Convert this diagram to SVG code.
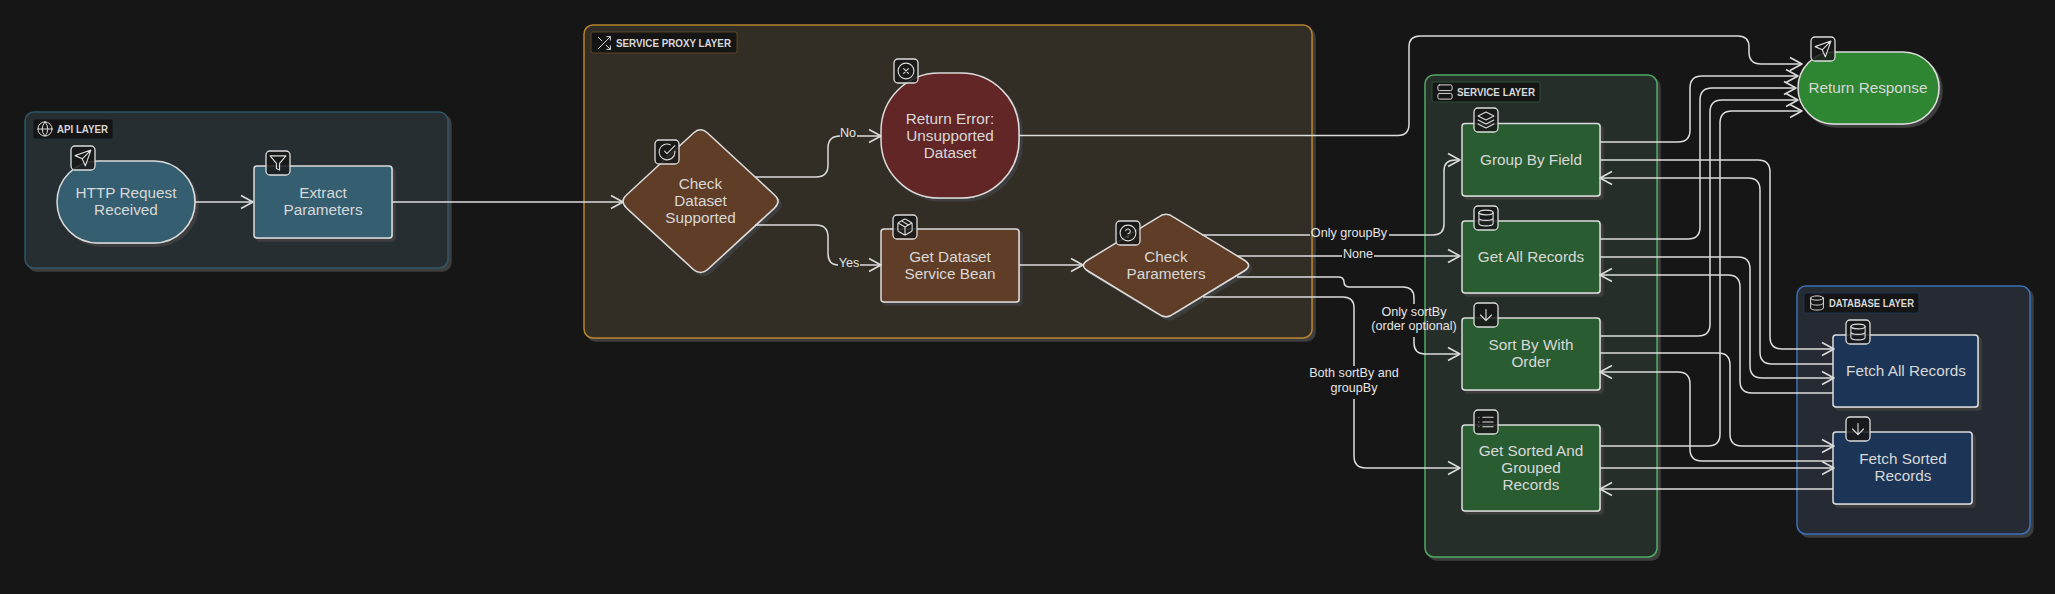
<svg xmlns="http://www.w3.org/2000/svg" width="2055" height="594" viewBox="0 0 2055 594">
<style>
text{font-family:"Liberation Sans",Arial,sans-serif;text-anchor:middle;dominant-baseline:central}
.n{font-size:15.3px;fill:#d8d8d8;transform:translateY(-1px)}
.e{font-size:12.6px;fill:#e4e4e4}
.c{font-size:10.6px;font-weight:700;fill:#d8d8d8;text-anchor:start}
.shape{stroke:#dcdcdc;stroke-width:1.5;filter:url(#sh)}
.cl{stroke-width:1.5;filter:url(#sh)}
.lb{fill:#151515;stroke-width:.8}
.ib{fill:#161616;fill-opacity:.85;stroke:#dcdcdc;stroke-width:1.3}
.ic{fill:none;stroke:#dcdcdc;stroke-width:1.4;stroke-linecap:round;stroke-linejoin:round}
.teal{fill:#365f71}.brown{fill:#5f3c27}.red{fill:#622725}.green{fill:#2b5c33}.navy{fill:#1f3557}.ok{fill:#2e8530}
#edges path{fill:none;stroke:#dcdcdc;stroke-width:1.5}
#edges path.a{marker-end:url(#arr)}
</style>
<defs>
<filter id="sh" x="-5%" y="-5%" width="110%" height="110%"><feDropShadow dx="3" dy="3" stdDeviation="0.5" flood-color="#3c3c3c"/></filter>
<marker id="arr" markerUnits="userSpaceOnUse" markerWidth="16" markerHeight="18" refX="13" refY="8" orient="auto"><path d="M1,1.5 L13,8 L1,14.5" fill="none" stroke="#dcdcdc" stroke-width="1.5" stroke-linejoin="round"/></marker>
<symbol id="i-send" viewBox="0 0 24 24"><path d="m22 2-7 20-4-9-9-4Z M22 2 11 13"/></symbol>
<symbol id="i-filter" viewBox="0 0 24 24"><path d="M22 3H2l8 9.46V19l4 2v-8.54L22 3z"/></symbol>
<symbol id="i-shuffle" viewBox="0 0 24 24"><path d="M16 3h5v5M4 20 21 3M21 16v5h-5M15 15l6 6M4 4l5 5"/></symbol>
<symbol id="i-globe" viewBox="0 0 24 24"><circle cx="12" cy="12" r="10"/><path d="M2 12h20M12 2a15.3 15.3 0 0 1 4 10 15.3 15.3 0 0 1-4 10 15.3 15.3 0 0 1-4-10 15.3 15.3 0 0 1 4-10z"/></symbol>
<symbol id="i-check" viewBox="0 0 24 24"><path d="M22 11.08V12a10 10 0 1 1-5.93-9.14M9 11l3 3L22 4"/></symbol>
<symbol id="i-x" viewBox="0 0 24 24"><circle cx="12" cy="12" r="10"/><path d="m15 9-6 6M9 9l6 6"/></symbol>
<symbol id="i-box" viewBox="0 0 24 24"><path d="M16.5 9.4 7.55 4.24M21 16V8a2 2 0 0 0-1-1.73l-7-4a2 2 0 0 0-2 0l-7 4A2 2 0 0 0 3 8v8a2 2 0 0 0 1 1.73l7 4a2 2 0 0 0 2 0l7-4A2 2 0 0 0 21 16zM3.29 7 12 12l8.71-5M12 22V12"/></symbol>
<symbol id="i-help" viewBox="0 0 24 24"><circle cx="12" cy="12" r="10"/><path d="M9.09 9a3 3 0 0 1 5.83 1c0 2-3 3-3 3M12 17h.01"/></symbol>
<symbol id="i-server" viewBox="0 0 24 24"><rect x="2" y="2" width="20" height="8" rx="2"/><rect x="2" y="14" width="20" height="8" rx="2"/></symbol>
<symbol id="i-layers" viewBox="0 0 24 24"><path d="m12 2-10 5 10 5 10-5-10-5M2 17l10 5 10-5M2 12l10 5 10-5"/></symbol>
<symbol id="i-db" viewBox="0 0 24 24"><ellipse cx="12" cy="5" rx="9" ry="3"/><path d="M3 5v14c0 1.66 4 3 9 3s9-1.34 9-3V5M3 12c0 1.66 4 3 9 3s9-1.34 9-3"/></symbol>
<symbol id="i-down" viewBox="0 0 24 24"><path d="M12 5v14M19 12l-7 7-7-7"/></symbol>
<symbol id="i-list" viewBox="0 0 24 24"><path d="M8 6h13M8 12h13M8 18h13M3 6h.01M3 12h.01M3 18h.01"/></symbol>
</defs>
<rect width="2055" height="594" fill="#161616"/>

<g id="cluster-api"><rect class="cl" x="25" y="112" width="423" height="156" rx="9" fill="#262d30" stroke="#2f5768"/><rect class="lb" x="33" y="119" width="80" height="20" rx="2" stroke="#22343c"/><use href="#i-globe" class="ic" x="36.500" y="120.500" width="17" height="17"/><text class="c" x="57" y="129" textLength="51" lengthAdjust="spacingAndGlyphs">API LAYER</text></g>
<g id="cluster-proxy"><rect class="cl" x="584" y="25" width="728" height="313" rx="9" fill="#322f28" stroke="#b5822e"/><rect class="lb" x="591" y="32" width="146" height="21" rx="2" stroke="#6b5024"/><use href="#i-shuffle" class="ic" x="595.500" y="34.500" width="17" height="17"/><text class="c" x="616" y="42.500" textLength="115" lengthAdjust="spacingAndGlyphs">SERVICE PROXY LAYER</text></g>
<g id="cluster-service"><rect class="cl" x="1425" y="75" width="232" height="482" rx="9" fill="#282f29" stroke="#4fa864"/><rect class="lb" x="1432" y="82" width="108" height="20" rx="2" stroke="#2d5e38"/><use href="#i-server" class="ic" x="1436.500" y="83.500" width="17" height="17"/><text class="c" x="1457" y="92" textLength="78" lengthAdjust="spacingAndGlyphs">SERVICE LAYER</text></g>
<g id="cluster-db"><rect class="cl" x="1797" y="286" width="233" height="248" rx="9" fill="#252a30" stroke="#3a6fb7"/><rect class="lb" x="1804" y="293" width="115" height="20" rx="2" stroke="#223a5e"/><use href="#i-db" class="ic" x="1808.500" y="294.500" width="17" height="17"/><text class="c" x="1829" y="303" textLength="85" lengthAdjust="spacingAndGlyphs">DATABASE LAYER</text></g>

<g id="n-http"><rect class="shape teal" x="57" y="161" width="138" height="82" rx="41"/><text class="n" x="126" y="193.500">HTTP Request</text><text class="n" x="126" y="210.500">Received</text><rect class="ib" x="71" y="146" width="24" height="24" rx="4"/><use href="#i-send" class="ic" x="73.500" y="148.500" width="19" height="19"/></g>
<g id="n-extract"><rect class="shape teal" x="254" y="166" width="138" height="72" rx="3"/><text class="n" x="323" y="193.500">Extract</text><text class="n" x="323" y="210.500">Parameters</text><rect class="ib" x="266" y="151" width="24" height="24" rx="4"/><use href="#i-filter" class="ic" x="268.500" y="153.500" width="19" height="19"/></g>
<g id="n-check-dataset"><path class="shape brown" d="M693.500,133Q700.500,126.500 707.500,133L774.500,195Q781.500,201 774.500,208L707.500,269.500Q700.500,275.500 693.500,269.500L626.500,208Q619.500,201 626.500,195Z"/><text class="n" x="700.500" y="184">Check</text><text class="n" x="700.500" y="201">Dataset</text><text class="n" x="700.500" y="218">Supported</text><rect class="ib" x="655" y="140" width="24" height="24" rx="4"/><use href="#i-check" class="ic" x="657.500" y="142.500" width="19" height="19"/></g>
<g id="n-error"><rect class="shape red" x="881" y="73" width="138" height="125" rx="58"/><text class="n" x="950" y="119">Return Error:</text><text class="n" x="950" y="136">Unsupported</text><text class="n" x="950" y="153">Dataset</text><rect class="ib" x="894" y="59" width="24" height="24" rx="4"/><use href="#i-x" class="ic" x="896.500" y="61.500" width="19" height="19"/></g>
<g id="n-bean"><rect class="shape brown" x="881" y="229" width="138" height="73" rx="3"/><text class="n" x="950" y="257">Get Dataset</text><text class="n" x="950" y="274">Service Bean</text><rect class="ib" x="893" y="215" width="24" height="24" rx="4"/><use href="#i-box" class="ic" x="895.500" y="217.500" width="19" height="19"/></g>
<g id="n-check-params"><path class="shape brown" d="M1158,217.500Q1166,211 1174,217.500L1244,260Q1253,265.500 1244,271L1174,313.500Q1166,320 1158,313.500L1088,271Q1079,265.500 1088,260Z"/><text class="n" x="1166" y="257">Check</text><text class="n" x="1166" y="274">Parameters</text><rect class="ib" x="1116" y="221" width="24" height="24" rx="4"/><use href="#i-help" class="ic" x="1118.500" y="223.500" width="19" height="19"/></g>
<g id="n-group"><rect class="shape green" x="1462" y="123.500" width="138" height="72.500" rx="3"/><text class="n" x="1531" y="160">Group By Field</text><rect class="ib" x="1474" y="108" width="24" height="24" rx="4"/><use href="#i-layers" class="ic" x="1476.500" y="110.500" width="19" height="19"/></g>
<g id="n-all"><rect class="shape green" x="1462" y="221" width="138" height="72" rx="3"/><text class="n" x="1531" y="257">Get All Records</text><rect class="ib" x="1474" y="206" width="24" height="24" rx="4"/><use href="#i-db" class="ic" x="1476.500" y="208.500" width="19" height="19"/></g>
<g id="n-sort"><rect class="shape green" x="1462" y="318" width="138" height="72" rx="3"/><text class="n" x="1531" y="345">Sort By With</text><text class="n" x="1531" y="362">Order</text><rect class="ib" x="1474" y="303" width="24" height="24" rx="4"/><use href="#i-down" class="ic" x="1476.500" y="305.500" width="19" height="19"/></g>
<g id="n-sorted"><rect class="shape green" x="1462" y="425" width="138" height="86" rx="3"/><text class="n" x="1531" y="451">Get Sorted And</text><text class="n" x="1531" y="468">Grouped</text><text class="n" x="1531" y="485">Records</text><rect class="ib" x="1474" y="410" width="24" height="24" rx="4"/><use href="#i-list" class="ic" x="1476.500" y="412.500" width="19" height="19"/></g>
<g id="n-fetch-all"><rect class="shape navy" x="1833" y="335" width="145" height="72" rx="3"/><text class="n" x="1906" y="371">Fetch All Records</text><rect class="ib" x="1846" y="320" width="24" height="24" rx="4"/><use href="#i-db" class="ic" x="1848.500" y="322.500" width="19" height="19"/></g>
<g id="n-fetch-sorted"><rect class="shape navy" x="1833" y="432" width="139" height="72" rx="3"/><text class="n" x="1903" y="459">Fetch Sorted</text><text class="n" x="1903" y="476">Records</text><rect class="ib" x="1846" y="417" width="24" height="24" rx="4"/><use href="#i-down" class="ic" x="1848.500" y="419.500" width="19" height="19"/></g>
<g id="n-response"><rect class="shape ok" x="1798" y="52" width="141" height="72" rx="36"/><text class="n" x="1868" y="88">Return Response</text><rect class="ib" x="1811" y="37" width="24" height="24" rx="4"/><use href="#i-send" class="ic" x="1813.500" y="39.500" width="19" height="19"/></g>

<g id="edges">
<path class="a" d="M195,202H253"/>
<path class="a" d="M392,202H623"/>
<path d="M755,177H816Q828,177 828,165V148Q828,136 840,136"/><path class="a" d="M857,136H881"/>
<path d="M755,225H816Q828,225 828,237V253Q828,265 838,265"/><path class="a" d="M860,265H881"/>
<path class="a" d="M1019,265H1083"/>
<path d="M1202,235H1310"/><path class="a" d="M1389,235H1433Q1444,235 1444,224V171Q1444,160 1455,160H1460"/>
<path d="M1237,256H1342"/><path class="a" d="M1374,256H1460"/>
<path d="M1237,277H1338Q1344,277 1344,282T1350,287H1403Q1414,287 1414,298V304"/><path class="a" d="M1414,337V343Q1414,354 1425,354H1460"/>
<path d="M1203,297H1343Q1354,297 1354,308V366"/><path class="a" d="M1354,399V456Q1354,468 1366,468H1460"/>
<path class="a" d="M1019,135.500H1398Q1409,135.500 1409,124V47Q1409,36 1420,36H1738Q1749,36 1749,47V52Q1749,64 1761,64H1802"/>
<path class="a" d="M1600,142H1678Q1690,142 1690,130V88Q1690,76 1702,76H1798"/>
<path class="a" d="M1600,239H1688Q1700,239 1700,227V100Q1700,88 1712,88H1796"/>
<path class="a" d="M1600,336H1698Q1710,336 1710,324V112Q1710,100 1722,100H1798"/>
<path class="a" d="M1600,446H1708Q1720,446 1720,434V123Q1720,111 1732,111H1802"/>
<path class="a" d="M1600,160H1758Q1770,160 1770,172V337Q1770,349 1782,349H1834"/>
<path class="a" d="M1833,364H1772Q1760,364 1760,352V190Q1760,178 1748,178H1600"/>
<path class="a" d="M1600,257H1738Q1750,257 1750,269V366Q1750,378 1762,378H1834"/>
<path class="a" d="M1833,393H1752Q1740,393 1740,381V287Q1740,275 1728,275H1600"/>
<path class="a" d="M1600,353H1718Q1730,353 1730,365V434Q1730,446 1742,446H1834"/>
<path class="a" d="M1833,461H1702Q1690,461 1690,449V384Q1690,372 1678,372H1600"/>
<path class="a" d="M1600,468H1834"/>
<path class="a" d="M1833,489H1600"/>
</g>

<g id="edge-labels">
<text class="e" x="848" y="133">No</text>
<text class="e" x="849" y="263">Yes</text>
<text class="e" x="1349" y="233">Only groupBy</text>
<text class="e" x="1358" y="254">None</text>
<text class="e" x="1414" y="312">Only sortBy</text>
<text class="e" x="1414" y="325.500">(order optional)</text>
<text class="e" x="1354" y="373">Both sortBy and</text>
<text class="e" x="1354" y="388">groupBy</text>
</g>
</svg>
